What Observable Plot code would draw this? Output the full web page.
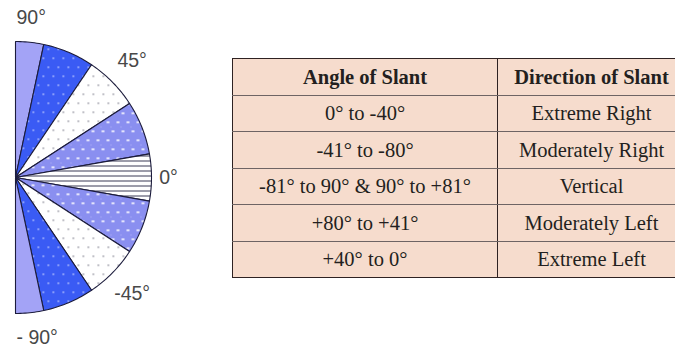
<!DOCTYPE html>
<html><head><meta charset="utf-8">
<script src="https://cdn.jsdelivr.net/npm/d3@7"></script>
<script src="https://cdn.jsdelivr.net/npm/@observablehq/plot@0.6"></script>
<style>
html,body{margin:0;padding:0;background:#fff;overflow:hidden;width:675px;height:351px;}
#fan{position:absolute;left:0;top:0;}
#tbl{position:absolute;left:232px;top:58px;border-collapse:collapse;table-layout:fixed;width:453px;
  font-family:"Liberation Serif",serif;font-size:20.5px;color:#231f20;background:#f6dccd;}
#tbl td,#tbl th{padding:0;text-align:center;vertical-align:middle;height:35.5px;line-height:22px;
  border-top:1.3px solid #6e6464;border-bottom:1.3px solid #6e6464;
  border-left:1.5px solid #2e2222;border-right:1.5px solid #2e2222;white-space:nowrap;}
#tbl tr:first-child th{border-top:1.5px solid #2e2222;}
#tbl tr:last-child td{border-bottom:1.5px solid #2e2222;}
#tbl th{font-weight:bold;}
</style>
</head><body>
<div id="fan"></div>
<table id="tbl"><colgroup><col style="width:265px"><col style="width:188px"></colgroup><tbody id="tb"></tbody></table>
<script>
// ---- data ----
const boundaries = [90, 78, 56, 33, 10, -10, -33, -56, -78, -90];
const wedgeStyles = ["lavender","blueDots","whiteDots","lightDots","hlines","lightDots","whiteDots","blueDots","lavender"];
const labelAngles = [90, 45, 0, -45, -90];
const labelTexts = ["90°", "45°", "0°", "-45°", "- 90°"];
const tableHeader = ["Angle of Slant", "Direction of Slant"];
const angleRanges = ["0° to -40°", "-41° to -80°", "-81° to 90° & 90° to +81°", "+80° to +41°", "+40° to 0°"];
const directions = ["Extreme Right", "Moderately Right", "Vertical", "Moderately Left", "Extreme Left"];

// ---- fan ----
const R = 136;
const rad = a => a * Math.PI / 180;
const pts = [];
wedgeStyles.forEach((s, i) => {
  const a0 = boundaries[i], a1 = boundaries[i + 1];
  pts.push({w: i, s, x: 0, y: 0});
  const n = Math.ceil(Math.abs(a0 - a1));
  for (let k = 0; k <= n; k++) {
    const a = rad(a0 + (a1 - a0) * k / n);
    pts.push({w: i, s, x: R * Math.cos(a), y: R * Math.sin(a)});
  }
  pts.push({w: i, s, x: 0, y: 0});
});
const labels = labelAngles.map((a, i) => ({a, t: labelTexts[i]}));
const lr = a => Math.abs(a) === 90 ? 160 : (a === 0 ? 153 : 165);
const lx = d => lr(d.a) * Math.cos(rad(d.a));
const ly = d => lr(d.a) * Math.sin(rad(d.a));
const txt = {fontFamily: "Liberation Sans, Arial, sans-serif", fontSize: 19.5, fill: "#484848", text: "t"};

const fan = Plot.plot({
  width: 200, height: 351, margin: 0,
  x: {domain: [-15, 185], range: [0, 200], axis: null},
  y: {domain: [-174, 177], range: [351, 0], axis: null},
  color: {type: "identity"},
  marks: [
    Plot.line(pts, {x: "x", y: "y", z: "w", fill: d => `url(#${d.s})`, stroke: "#1c1c3c", strokeWidth: 1.1, strokeLinejoin: "round"}),
    Plot.text(labels.filter(d => Math.abs(d.a) === 90), {...txt, x: lx, y: ly, textAnchor: "start", dx: 1}),
    Plot.text(labels.filter(d => Math.abs(d.a) !== 90), {...txt, x: lx, y: ly, textAnchor: "middle"})
  ]
});
const defs = d3.select(fan).insert("defs", ":first-child");
function pat(id, w, h, bg) {
  const p = defs.append("pattern").attr("id", id).attr("patternUnits", "userSpaceOnUse").attr("width", w).attr("height", h);
  p.append("rect").attr("width", w).attr("height", h).attr("fill", bg);
  return p;
}
pat("lavender", 10, 10, "#a3a3f6");
const bd = pat("blueDots", 10, 18, "#3a5bf4");
[[2, 3], [7, 12]].forEach(([x, y]) => bd.append("rect").attr("x", x).attr("y", y).attr("width", 1.6).attr("height", 1.4).attr("fill", "#c6d0ff"));
const wd = pat("whiteDots", 10, 18, "#ffffff");
[[2, 3], [7, 12]].forEach(([x, y]) => wd.append("rect").attr("x", x).attr("y", y).attr("width", 1.6).attr("height", 1.4).attr("fill", "#8f8f9c"));
const ld = pat("lightDots", 10, 18, "#8a8ff0");
ld.append("rect").attr("x", 0).attr("y", 0).attr("width", 1).attr("height", 1).attr("fill", "#b0b3f6");
[[1, 4], [6, 13]].forEach(([x, y]) => ld.append("rect").attr("x", x).attr("y", y).attr("width", 3).attr("height", 1.5).attr("fill", "#ffffff"));
const hl = pat("hlines", 10, 5, "#ffffff");
hl.append("rect").attr("x", 0).attr("y", 0).attr("width", 10).attr("height", 1).attr("fill", "#3a3a55");
document.getElementById("fan").append(fan);

// ---- table ----
const tb = d3.select("#tb");
tb.append("tr").selectAll("th").data(tableHeader).join("th").text(d => d);
angleRanges.forEach((a, i) => {
  tb.append("tr").selectAll("td").data([a, directions[i]]).join("td").text(d => d);
});
</script>
</body></html>
